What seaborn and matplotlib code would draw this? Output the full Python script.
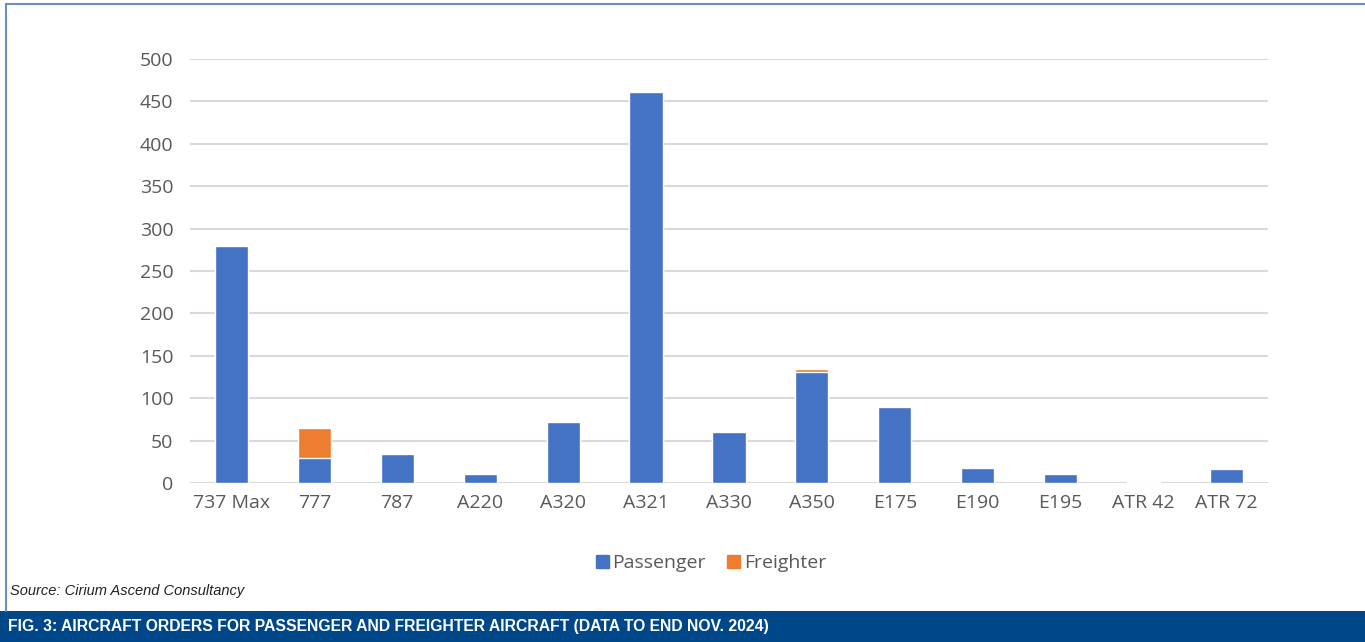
import matplotlib
matplotlib.use("Agg")
import matplotlib.pyplot as plt
import seaborn as sns
import pandas as pd
from matplotlib.patches import Patch, Rectangle
from matplotlib.lines import Line2D

aircraft = ["737 Max", "777", "787", "A220", "A320", "A321", "A330",
            "A350", "E175", "E190", "E195", "ATR 42", "ATR 72"]
passenger = [280, 29, 34, 10, 72, 461, 60, 131, 90, 18, 10, 1, 16]
freighter = [0, 36, 0, 0, 0, 0, 0, 4, 0, 0, 0, 0, 0]

blue = "#4472C4"
orange = "#ED7D31"
grey = "#595959"

df = pd.DataFrame({"aircraft": aircraft, "passenger": passenger, "freighter": freighter})
df["total"] = df["passenger"] + df["freighter"]

sns.set_style("white")
plt.rcParams["font.family"] = ["Open Sans", "DejaVu Sans"]

fig = plt.figure(figsize=(13.65, 6.42), dpi=100)
ax = fig.add_axes([0.1392, 0.2477, 0.7897, 0.6604])

# stacked: total (orange) behind, passenger (blue) on top
sns.barplot(data=df, x="aircraft", y="total", color=orange, width=0.4,
            saturation=1, ax=ax, zorder=2)
sns.barplot(data=df, x="aircraft", y="passenger", color=blue, width=0.4,
            saturation=1, ax=ax, zorder=3)

ax.set_ylim(0, 500)
ax.set_xlim(-0.5, len(aircraft) - 0.5)
ax.set_yticks(range(0, 501, 50))
ax.yaxis.grid(True, color="#d9d9d9", linewidth=1.5, zorder=0)
ax.set_axisbelow(True)
for s in ax.spines.values():
    s.set_visible(False)
ax.set_xlabel("")
ax.set_ylabel("")
ax.tick_params(axis="both", length=0, labelsize=14, labelcolor=grey)
ax.tick_params(axis="y", pad=12)
ax.tick_params(axis="x", pad=8)

handles = [Patch(color=blue, label="Passenger"), Patch(color=orange, label="Freighter")]
fig.legend(handles=handles, loc="center", bbox_to_anchor=(711 / 1365, 0.123), ncol=2,
           frameon=False, fontsize=14, labelcolor=grey, handlelength=0.65,
           handleheight=0.65, columnspacing=1.1, handletextpad=0.2)

# border and banner
fig.add_artist(Line2D([6 / 1365, 6 / 1365], [1 - 4 / 642, 1 - 611 / 642],
                      color="#6a8fc0", linewidth=1.5, transform=fig.transFigure))
fig.add_artist(Line2D([6 / 1365, 1], [1 - 4 / 642, 1 - 4 / 642],
                      color="#6a8fc0", linewidth=1.5, transform=fig.transFigure))
fig.add_artist(Rectangle((0, 0), 1, 31 / 642, transform=fig.transFigure,
                         facecolor="#00478A", edgecolor="none"))

narrow = ["Liberation Sans", "DejaVu Sans"]
fig.text(10 / 1365, 1 - 591 / 642, "Source: Cirium Ascend Consultancy",
         fontsize=10.5, style="italic", family=narrow, color="#222222", va="center")
fig.text(8 / 1365, 1 - 627 / 642,
         "FIG. 3: AIRCRAFT ORDERS FOR PASSENGER AND FREIGHTER AIRCRAFT (DATA TO END NOV. 2024)",
         fontsize=11.3, fontweight="bold", family=narrow, color="white", va="center")

fig.savefig("out.png", dpi=100)
